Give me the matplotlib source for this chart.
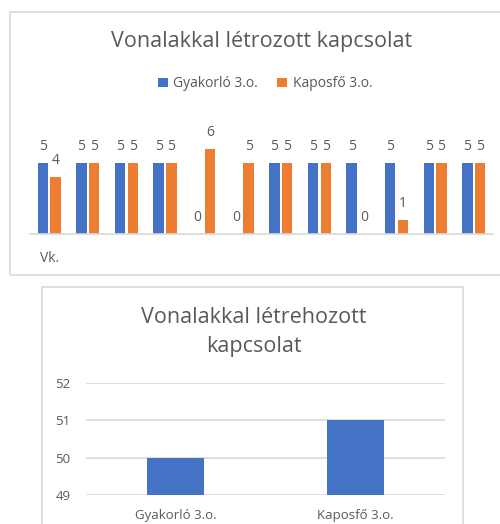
import numpy as np
from matplotlib import pyplot as plt
from matplotlib.patches import Rectangle

plt.rcParams['font.family'] = ['Open Sans', 'DejaVu Sans']

# Felső diagram adatai
kategoriak = ['Vk.', '', '', '', '', '', '', '', '', '', '', '']
gyakorlo = [5, 5, 5, 5, 0, 0, 5, 5, 5, 5, 5, 5]
kaposfo = [4, 5, 5, 5, 6, 5, 5, 5, 0, 1, 5, 5]
sorozatok = ['Gyakorló 3.o.', 'Kaposfő 3.o.']

# Alsó diagram adatai
iskolak = ['Gyakorló 3.o.', 'Kaposfő 3.o.']
ertekek = [50, 51]

KEK = '#4472C4'
NARANCS = '#ED7D31'
SZURKE = '#595959'
VONAL = '#D9D9D9'

W, H = 500, 524
fig = plt.figure(figsize=(W / 100, H / 100), dpi=100)


def px(x0, y0, x1, y1):
    # pixel koordinatak -> figure fraction [left, bottom, width, height]
    return [x0 / W, 1 - y1 / H, (x1 - x0) / W, (y1 - y0) / H]


# keretek
for x0, y0, x1, y1 in [(10, 12, 520, 275), (42, 287, 463, 540)]:
    fig.patches.append(Rectangle((x0 / W, 1 - y1 / H), (x1 - x0) / W, (y1 - y0) / H,
                                 transform=fig.transFigure, facecolor='none',
                                 edgecolor=VONAL, linewidth=1.2, zorder=-1))

# ---- Felső diagram ----
ax1 = fig.add_axes(px(30, 134.6, 493, 234))
ax1.set_facecolor('none')
x = np.arange(len(kategoriak))
w = 0.27
b1 = ax1.bar(x - 0.165, gyakorlo, w, color=KEK, label=sorozatok[0])
b2 = ax1.bar(x + 0.165, kaposfo, w, color=NARANCS, label=sorozatok[1])
for bars, vals in [(b1, gyakorlo), (b2, kaposfo)]:
    for bar, v in zip(bars, vals):
        ax1.annotate(str(v), (bar.get_x() + bar.get_width() / 2, v),
                     xytext=(0, 12), textcoords='offset points',
                     ha='center', va='center', fontsize=10, color=SZURKE)
ax1.set_xlim(-0.5, len(kategoriak) - 0.5)
ax1.set_ylim(0, 7)
ax1.set_yticks([])
ax1.set_xticks(x)
ax1.set_xticklabels(kategoriak, fontsize=10, color=SZURKE)
ax1.tick_params(axis='x', length=0, pad=12)
for s in ['top', 'left', 'right']:
    ax1.spines[s].set_visible(False)
ax1.spines['bottom'].set_color(VONAL)
ax1.spines['bottom'].set_linewidth(1.2)

fig.text(262 / W, 1 - 42 / H, 'Vonalakkal létrozott kapcsolat',
         ha='center', va='center', fontsize=15.5, color=SZURKE)
fig.legend(handles=[b1, b2], labels=sorozatok, loc='center',
           bbox_to_anchor=(265 / W, 1 - 84 / H), ncol=2, frameon=False,
           fontsize=10, labelcolor=SZURKE, handlelength=0.7, handleheight=0.7,
           handletextpad=0.4, columnspacing=1.4)

# ---- Alsó diagram ----
ax2 = fig.add_axes(px(86, 382.7, 445, 495))
ax2.set_facecolor('none')
x2 = np.arange(len(iskolak))
ax2.bar(x2, np.array(ertekek) - 49, 0.32, bottom=49, color=KEK, zorder=3)
ax2.set_xlim(-0.5, len(iskolak) - 0.5)
ax2.set_ylim(49, 52)
ax2.set_yticks([49, 50, 51, 52])
ax2.grid(axis='y', color=VONAL, linewidth=1.2, zorder=0)
ax2.set_xticks(x2)
ax2.set_xticklabels(iskolak, fontsize=9.5, color=SZURKE)
ax2.tick_params(axis='y', length=0, pad=11, labelsize=9.5, labelcolor=SZURKE)
ax2.tick_params(axis='x', length=0, pad=10)
for s in ax2.spines.values():
    s.set_visible(False)

fig.text(254 / W, 1 - 332 / H, 'Vonalakkal létrehozott\nkapcsolat',
         ha='center', va='center', fontsize=15.5, color=SZURKE, linespacing=1.45)

plt.savefig('out.png', dpi=100)
